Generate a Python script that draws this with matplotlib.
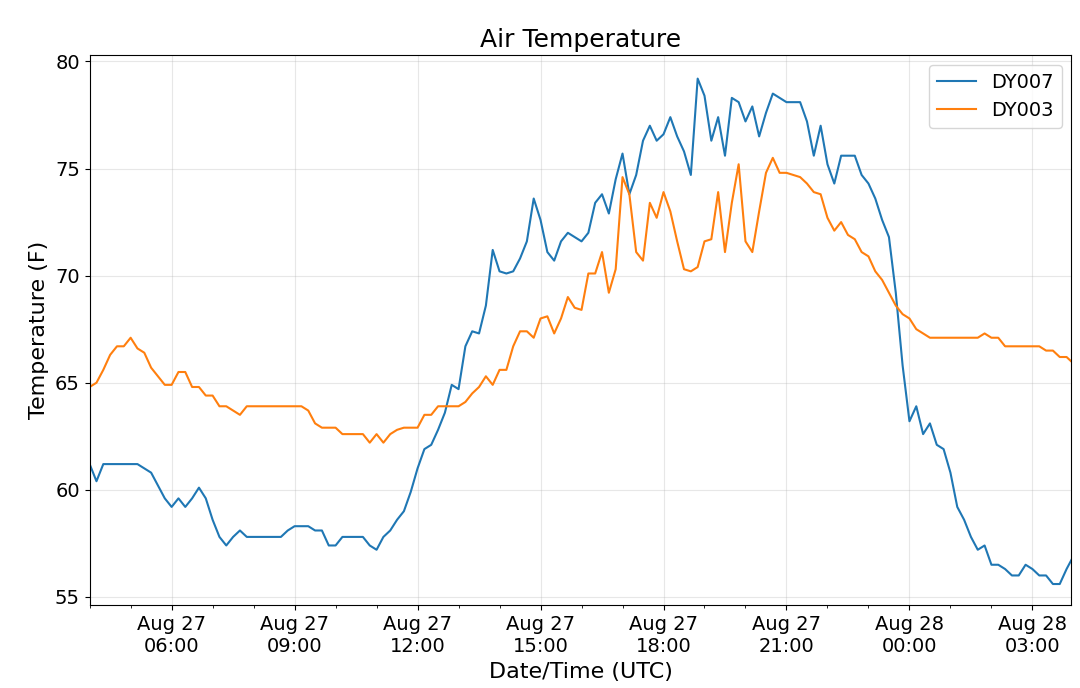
import numpy as np
import pandas as pd
import matplotlib
matplotlib.use("Agg")
import matplotlib.pyplot as plt
import matplotlib.dates as mdates

# 10-minute readings, Aug 27 04:00 UTC -> Aug 28 04:00 UTC (one row per hour)
dy007_rows = [
    [61.2, 60.4, 61.2, 61.2, 61.2, 61.2],  # 04
    [61.2, 61.2, 61.0, 60.8, 60.2, 59.6],  # 05
    [59.2, 59.6, 59.2, 59.6, 60.1, 59.6],  # 06
    [58.6, 57.8, 57.4, 57.8, 58.1, 57.8],  # 07
    [57.8, 57.8, 57.8, 57.8, 57.8, 58.1],  # 08
    [58.3, 58.3, 58.3, 58.1, 58.1, 57.4],  # 09
    [57.4, 57.8, 57.8, 57.8, 57.8, 57.4],  # 10
    [57.2, 57.8, 58.1, 58.6, 59.0, 59.9],  # 11
    [61.0, 61.9, 62.1, 62.8, 63.6, 64.9],  # 12
    [64.7, 66.7, 67.4, 67.3, 68.6, 71.2],  # 13
    [70.2, 70.1, 70.2, 70.8, 71.6, 73.6],  # 14
    [72.6, 71.1, 70.7, 71.6, 72.0, 71.8],  # 15
    [71.6, 72.0, 73.4, 73.8, 72.9, 74.5],  # 16
    [75.7, 73.8, 74.7, 76.3, 77.0, 76.3],  # 17
    [76.6, 77.4, 76.5, 75.8, 74.7, 79.2],  # 18
    [78.4, 76.3, 77.4, 75.6, 78.3, 78.1],  # 19
    [77.2, 77.9, 76.5, 77.6, 78.5, 78.3],  # 20
    [78.1, 78.1, 78.1, 77.2, 75.6, 77.0],  # 21
    [75.2, 74.3, 75.6, 75.6, 75.6, 74.7],  # 22
    [74.3, 73.6, 72.6, 71.8, 69.2, 65.8],  # 23
    [63.2, 63.9, 62.6, 63.1, 62.1, 61.9],  # 00
    [60.8, 59.2, 58.6, 57.8, 57.2, 57.4],  # 01
    [56.5, 56.5, 56.3, 56.0, 56.0, 56.5],  # 02
    [56.3, 56.0, 56.0, 55.6, 55.6, 56.3],  # 03
    [56.9],                                # 04
]
dy003_rows = [
    [64.8, 65.0, 65.6, 66.3, 66.7, 66.7],  # 04
    [67.1, 66.6, 66.4, 65.7, 65.3, 64.9],  # 05
    [64.9, 65.5, 65.5, 64.8, 64.8, 64.4],  # 06
    [64.4, 63.9, 63.9, 63.7, 63.5, 63.9],  # 07
    [63.9, 63.9, 63.9, 63.9, 63.9, 63.9],  # 08
    [63.9, 63.9, 63.7, 63.1, 62.9, 62.9],  # 09
    [62.9, 62.6, 62.6, 62.6, 62.6, 62.2],  # 10
    [62.6, 62.2, 62.6, 62.8, 62.9, 62.9],  # 11
    [62.9, 63.5, 63.5, 63.9, 63.9, 63.9],  # 12
    [63.9, 64.1, 64.5, 64.8, 65.3, 64.9],  # 13
    [65.6, 65.6, 66.7, 67.4, 67.4, 67.1],  # 14
    [68.0, 68.1, 67.3, 68.0, 69.0, 68.5],  # 15
    [68.4, 70.1, 70.1, 71.1, 69.2, 70.3],  # 16
    [74.6, 73.8, 71.1, 70.7, 73.4, 72.7],  # 17
    [73.9, 73.0, 71.6, 70.3, 70.2, 70.4],  # 18
    [71.6, 71.7, 73.9, 71.1, 73.4, 75.2],  # 19
    [71.6, 71.1, 73.0, 74.8, 75.5, 74.8],  # 20
    [74.8, 74.7, 74.6, 74.3, 73.9, 73.8],  # 21
    [72.7, 72.1, 72.5, 71.9, 71.7, 71.1],  # 22
    [70.9, 70.2, 69.8, 69.2, 68.6, 68.2],  # 23
    [68.0, 67.5, 67.3, 67.1, 67.1, 67.1],  # 00
    [67.1, 67.1, 67.1, 67.1, 67.1, 67.3],  # 01
    [67.1, 67.1, 66.7, 66.7, 66.7, 66.7],  # 02
    [66.7, 66.7, 66.5, 66.5, 66.2, 66.2],  # 03
    [65.9],                                # 04
]
dy007 = [v for row in dy007_rows for v in row]
dy003 = [v for row in dy003_rows for v in row]
times = pd.date_range("2019-08-27 04:00", periods=len(dy007), freq="10min")

plt.rcParams['font.size'] = 14
fig, ax = plt.subplots(figsize=(10.8, 6.88), dpi=100)
ax.plot(times, dy007, color='#1f77b4', linewidth=1.5, label='DY007')
ax.plot(times, dy003, color='#ff7f0e', linewidth=1.5, label='DY003')

ax.set_xlim(pd.Timestamp("2019-08-27 04:00"), pd.Timestamp("2019-08-28 03:57"))
ax.set_ylim(54.6, 80.3)
ax.set_yticks([55, 60, 65, 70, 75, 80])
ax.xaxis.set_major_locator(mdates.HourLocator(byhour=[0, 3, 6, 9, 12, 15, 18, 21]))
ax.xaxis.set_minor_locator(mdates.HourLocator())
ax.xaxis.set_major_formatter(mdates.DateFormatter('%b %d\n%H:%M'))
for lbl in ax.get_xticklabels():
    lbl.set_horizontalalignment('center')
ax.grid(True, alpha=0.3)

ax.set_title('Air Temperature', fontsize=18)
ax.set_xlabel('Date/Time (UTC)', fontsize=16)
ax.set_ylabel('Temperature (F)', fontsize=16)
ax.legend(loc='upper right', fontsize=14)

plt.subplots_adjust(left=0.083, right=0.992, top=0.92, bottom=0.12)
plt.savefig('out.png', dpi=100)
